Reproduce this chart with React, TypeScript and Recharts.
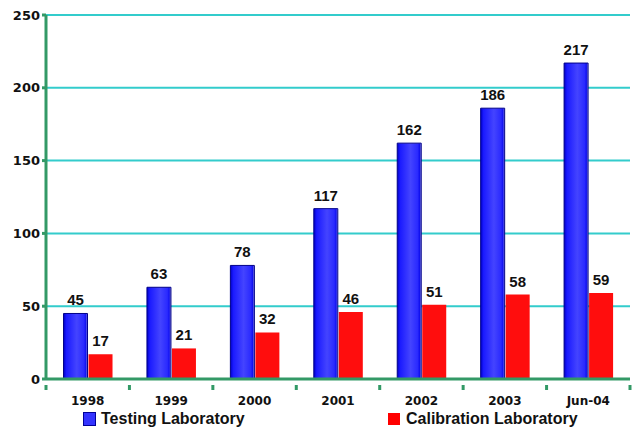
import { BarChart, Bar, XAxis, YAxis, CartesianGrid, LabelList, Legend } from "recharts";

const years = ["1998", "1999", "2000", "2001", "2002", "2003", "Jun-04"];
const testing = [45, 63, 78, 117, 162, 186, 217];
const calibration = [17, 21, 32, 46, 51, 58, 59];
const yTicks = [0, 50, 100, 150, 200, 250];

const data = years.map((year, i) => ({
  year,
  testing: testing[i],
  calibration: calibration[i],
}));

const AXIS_GREEN = "#339966";
const labelStyle = { fontFamily: "Liberation Sans, Arial, sans-serif", fontWeight: 700, fontSize: 15, fill: "#111" };

// x tick: year label plus small green marks at the category boundaries
function YearTick(props: any) {
  const { x, y, payload, index } = props;
  const half = payload.offset || 0;
  const axisY = y - 8;
  return (
    <g>
      <line x1={x - half} x2={x - half} y1={axisY} y2={axisY + 5} stroke={AXIS_GREEN} strokeWidth={3} />
      {index === years.length - 1 && (
        <line x1={x + half} x2={x + half} y1={axisY} y2={axisY + 5} stroke={AXIS_GREEN} strokeWidth={3} />
      )}
      <text
        x={x}
        y={y + 12}
        textAnchor="middle"
        style={{ fontFamily: "DejaVu Sans, Verdana, sans-serif", fontWeight: 700, fontSize: 12, fill: "#111" }}
      >
        {payload.value}
      </text>
    </g>
  );
}

function LegendBox() {
  return (
    <div style={{ position: "relative", height: 22, fontFamily: "Liberation Sans, Arial, sans-serif", fontWeight: 700, fontSize: 16 }}>
      <div style={{ position: "absolute", left: 83, top: 2, display: "flex", alignItems: "center" }}>
        <span style={{ width: 11, height: 12, background: "#3333ff", border: "1px solid #000099", display: "inline-block", marginRight: 5 }} />
        <span style={{ color: "#111" }}>Testing Laboratory</span>
      </div>
      <div style={{ position: "absolute", left: 388, top: 2, display: "flex", alignItems: "center" }}>
        <span style={{ width: 12, height: 12, background: "#ff0000", display: "inline-block", marginRight: 6 }} />
        <span style={{ color: "#111" }}>Calibration Laboratory</span>
      </div>
    </div>
  );
}

export default function App() {
  return (
    <div style={{ position: "absolute", left: 0, top: 0, width: 633, height: 430, background: "#fff" }}>
      <BarChart
        width={633}
        height={430}
        data={data}
        margin={{ top: 15, right: 3, bottom: 0, left: 0 }}
        barCategoryGap="21%"
        barGap={1}
      >
        <defs>
          <linearGradient id="blueBar" x1="0" y1="0" x2="1" y2="0">
            <stop offset="0%" stopColor="#0000c8" />
            <stop offset="12%" stopColor="#1a1aff" />
            <stop offset="55%" stopColor="#4444ff" />
            <stop offset="85%" stopColor="#2a2aff" />
            <stop offset="93%" stopColor="#1010f0" />
            <stop offset="100%" stopColor="#a0a0d8" />
          </linearGradient>
        </defs>
        <CartesianGrid horizontal vertical={false} stroke="#33cccc" strokeWidth={2} />
        <XAxis
          dataKey="year"
          height={29}
          axisLine={{ stroke: AXIS_GREEN, strokeWidth: 3 }}
          tickLine={false}
          tick={<YearTick />}
          tickMargin={8}
          interval={0}
        />
        <YAxis
          width={46}
          domain={[0, 250]}
          ticks={yTicks}
          axisLine={{ stroke: AXIS_GREEN, strokeWidth: 3 }}
          tickLine={{ stroke: AXIS_GREEN, strokeWidth: 3 }}
          tickSize={4}
          tick={{ fontFamily: "DejaVu Sans, Verdana, sans-serif", fontWeight: 700, fontSize: 13, fill: "#111" }}
        />
        <Legend verticalAlign="bottom" content={() => <LegendBox />} wrapperStyle={{ left: 0, width: 633, bottom: 0 }} />
        <Bar
          dataKey="testing"
          name="Testing Laboratory"
          fill="url(#blueBar)"
          stroke="#00008a"
          strokeWidth={1}
          isAnimationActive={false}
        >
          <LabelList dataKey="testing" position="top" offset={8} style={labelStyle} />
        </Bar>
        <Bar
          dataKey="calibration"
          name="Calibration Laboratory"
          fill="#ff0d0d"
          isAnimationActive={false}
        >
          <LabelList dataKey="calibration" position="top" offset={8} style={labelStyle} />
        </Bar>
      </BarChart>
    </div>
  );
}
